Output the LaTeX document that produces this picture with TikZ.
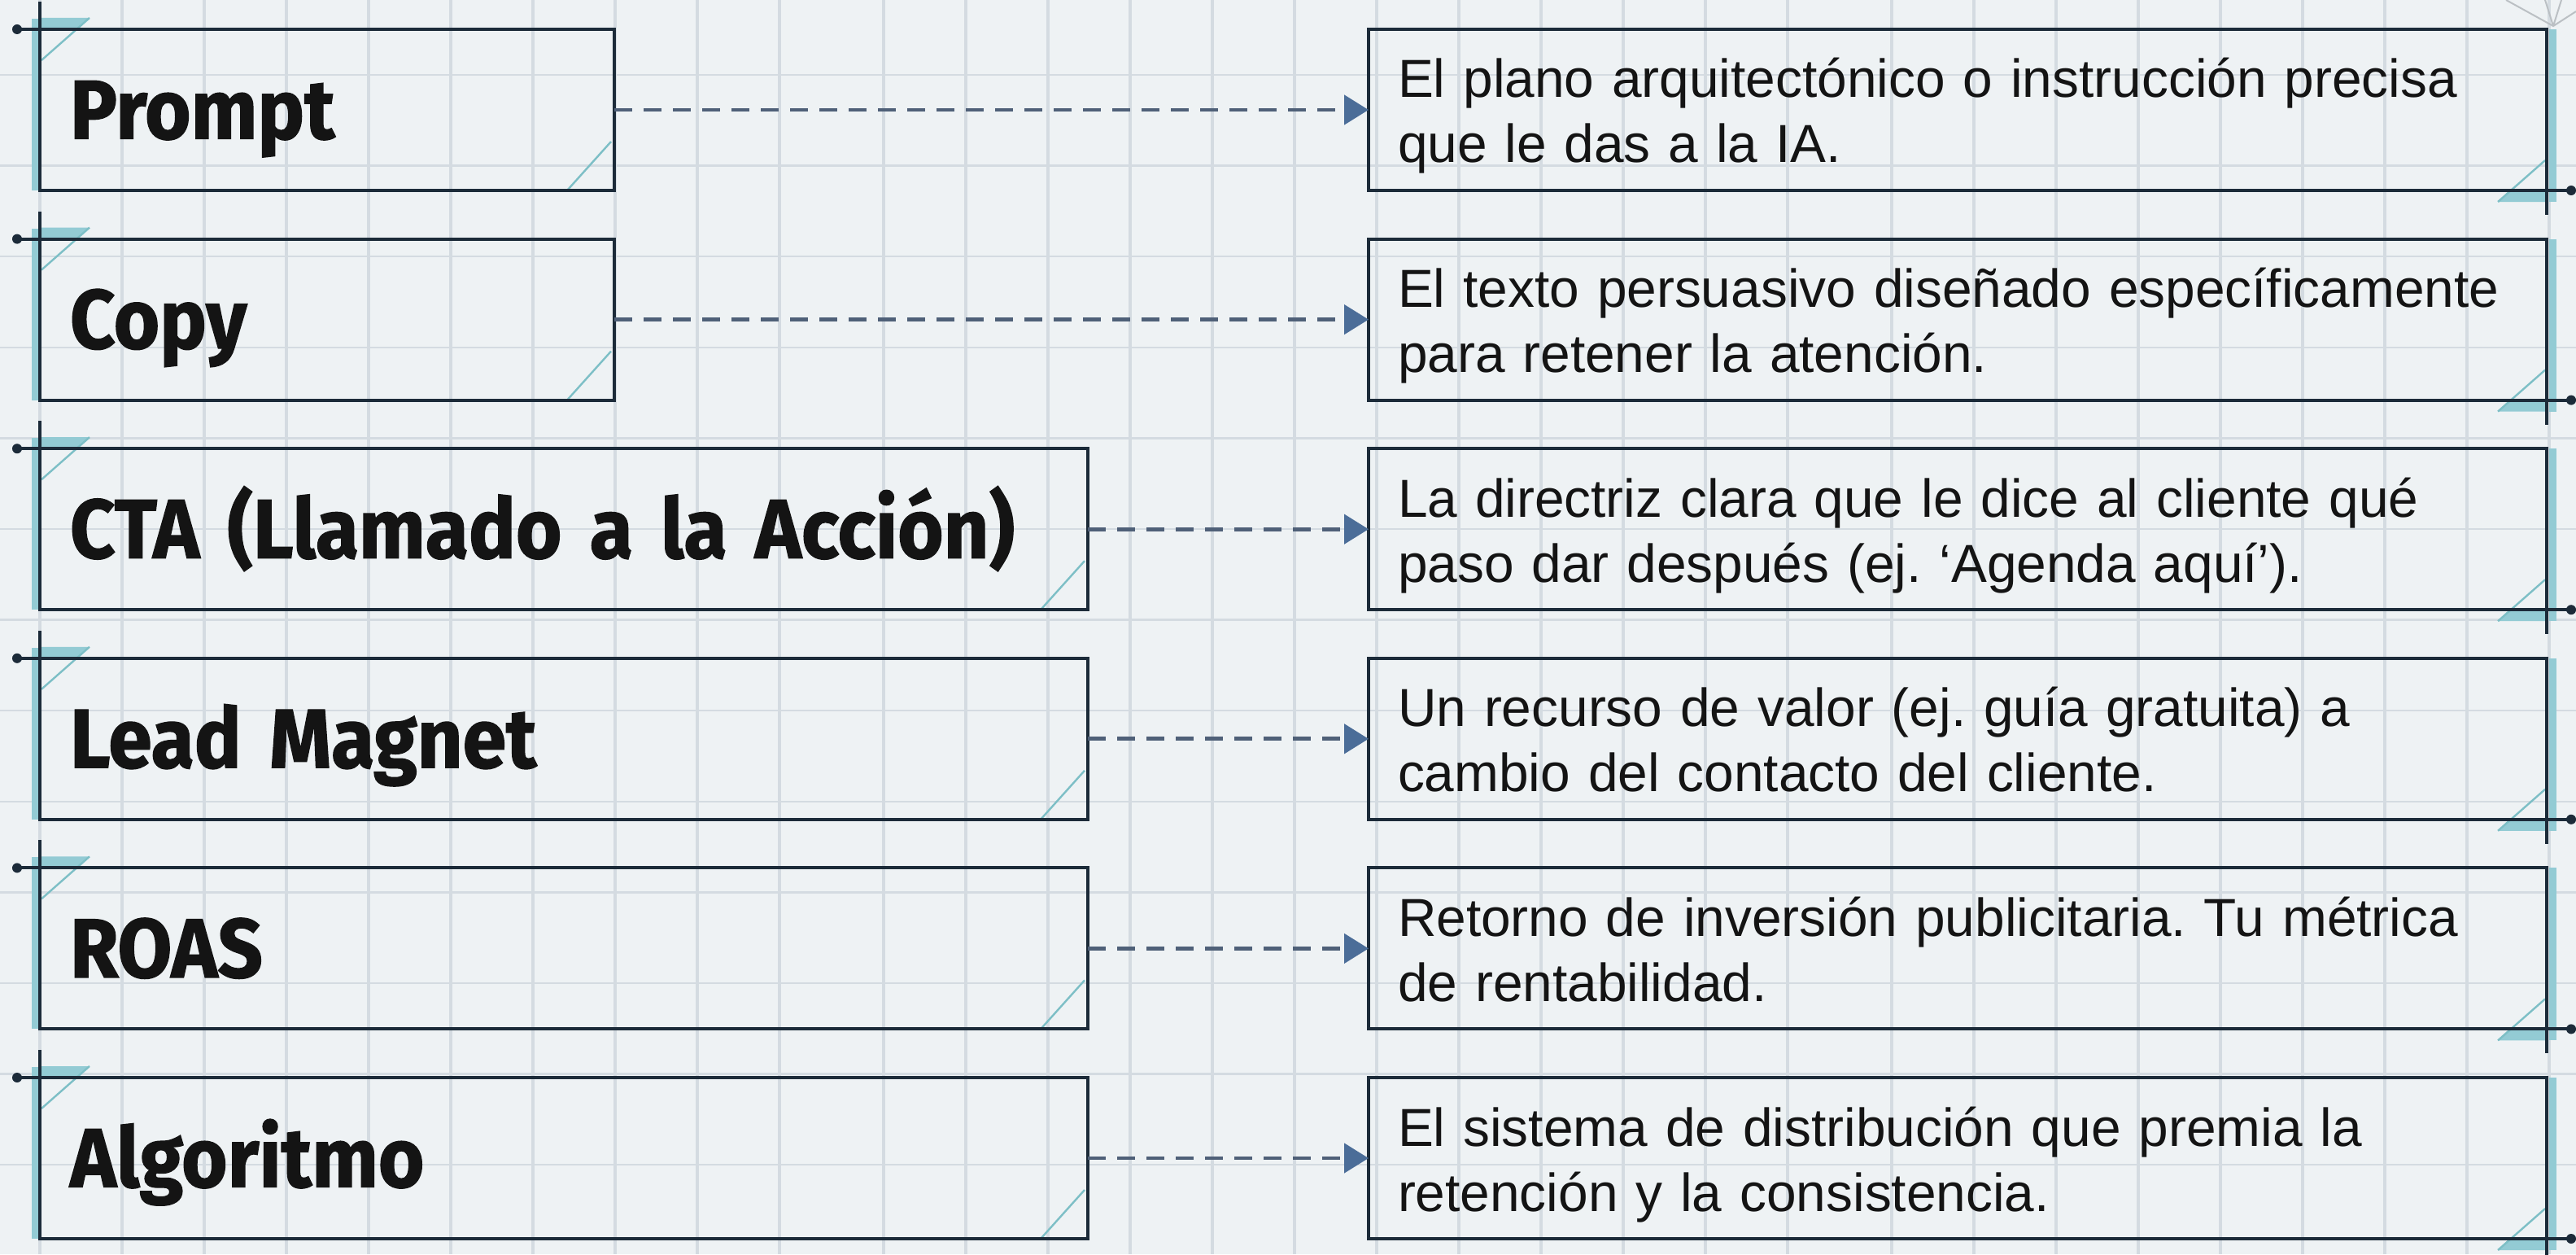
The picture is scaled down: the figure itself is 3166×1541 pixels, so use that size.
\documentclass[tikz,border=0pt]{standalone}
\usepackage{fontspec}
\setmainfont{Liberation Sans}
\newfontfamily\termfamily{Fira Sans}[FakeStretch=0.94, BoldFeatures={FakeBold=1.2}]
\usetikzlibrary{arrows.meta, positioning, backgrounds}
\frenchspacing
\hyphenpenalty=10000

\definecolor{paper}{HTML}{EEF2F4}
\definecolor{gridc}{HTML}{D4DBE1}
\definecolor{boxline}{HTML}{1C2B39}
\definecolor{teal}{HTML}{93CBD4}
\definecolor{tealline}{HTML}{7DBFC6}
\definecolor{linkc}{HTML}{4F6078}
\definecolor{tipc}{HTML}{4B6D98}
\definecolor{ink}{HTML}{141414}

\begin{document}
\begin{tikzpicture}[x=0.25pt, y=-0.25pt,
		termbox/.style={draw=boxline, line width=1pt, anchor=north west, minimum height=49.5pt,
			inner xsep=9.25pt, inner ysep=0pt, outer sep=0pt, text width=#1, align=left,
			text height=17.75pt, text depth=0pt, text=ink,
			font=\termfamily\bfseries\fontsize{25.75pt}{30pt}\selectfont},
		defbox/.style={draw=boxline, line width=1pt, minimum height=49.5pt,
			inner xsep=9pt, inner ysep=0pt, outer sep=0pt, text width=344pt, align=left,
			text height=12pt, text depth=19.5pt, text=ink,
			font=\fontsize{16.45pt}{20pt}\selectfont},
		link/.style={draw=linkc, line width=1.2pt, dash pattern=on 5.5pt off 3.5pt,
			-{Triangle[length=7.5pt, width=9pt, fill=tipc, color=tipc]}},
		gridline/.style={draw=gridc, line width=0.6pt}
		]
		\useasboundingbox (0,0) rectangle (3166,1541);
		% squared paper
		\begin{scope}[on background layer]
			\fill[paper] (0,0) rectangle (3166,1541);
			\foreach \x in {49,150,...,958} \draw[gridline, line width=0.8pt] (\x,0) -- (\x,1541);
			\foreach \x in {1086,1187,...,2197} \draw[gridline, line width=0.8pt] (\x,0) -- (\x,1541);
			\foreach \x in {2325,2426,...,3133} \draw[gridline, line width=0.8pt] (\x,0) -- (\x,1541);
			\foreach \k in {0,...,12} \draw[gridline] (0,92+111.6*\k) -- (3166,92+111.6*\k);
			\draw[gridc!70!gray, line width=0.5pt] (3080,0) -- (3138,32) -- (3166,14)
				(3128,0) -- (3138,32) (3148,0) -- (3138,32);
		\end{scope}

		% terms
		\node [termbox=158pt] (prompt) at (49,36) {Prompt};
		\node [termbox=158pt, below=14.9pt of prompt.south west, anchor=north west] (copy) {Copy};
		\node [termbox=303.5pt, below=14.9pt of copy.south west, anchor=north west] (cta) {CTA (Llamado a la Acción)};
		\node [termbox=303.5pt, below=14.9pt of cta.south west, anchor=north west] (lead) {Lead Magnet};
		\node [termbox=303.5pt, below=14.9pt of lead.south west, anchor=north west] (roas) {ROAS};
		\node [termbox=303.5pt, below=14.9pt of roas.south west, anchor=north west] (algo) {Algoritmo};

		% definitions
		\node [defbox, right=231.75pt of prompt.north east, anchor=north west] (prompt-def)
			{El plano arquitectónico o instrucción precisa\\que le das a la IA.};
		\node [defbox, right=231.75pt of copy.north east, anchor=north west] (copy-def)
			{El texto persuasivo diseñado específicamente\\para retener la atención.};
		\node [defbox, right=86.25pt of cta.north east, anchor=north west] (cta-def)
			{La directriz clara que le dice al cliente qué\\paso dar después (ej. ‘Agenda aquí’).};
		\node [defbox, right=86.25pt of lead.north east, anchor=north west] (lead-def)
			{Un recurso de valor (ej. guía gratuita) a\\cambio del contacto del cliente.};
		\node [defbox, right=86.25pt of roas.north east, anchor=north west] (roas-def)
			{Retorno de inversión publicitaria. Tu métrica\\de rentabilidad.};
		\node [defbox, right=86.25pt of algo.north east, anchor=north west] (algo-def)
			{El sistema de distribución que premia la\\retención y la consistencia.};

		\draw [link] (prompt) -- (prompt-def);
		\draw [link] (copy) -- (copy-def);
		\draw [link] (cta) -- (cta-def);
		\draw [link] (lead) -- (lead-def);
		\draw [link] (roas) -- (roas-def);
		\draw [link] (algo) -- (algo-def);

		% corner marks
		\begin{scope}[on background layer]
			\foreach \n in {prompt,copy,cta,lead,roas,algo} {
				\fill[teal] ([shift={(0,-14)}]\n.north west) -- ([shift={(61,-14)}]\n.north west)
					-- ([shift={(45,0)}]\n.north west) -- (\n.north west) -- cycle;
				\draw[tealline, line width=0.6pt] ([shift={(61,-14)}]\n.north west) -- ([shift={(2,38)}]\n.north west);
				\draw[teal, line width=2.25pt] ([shift={(-6,-13)}]\n.north west) -- ([shift={(-6,0)}]\n.south west);
				\draw[tealline, line width=0.6pt] ([shift={(-58,0)}]\n.south east) -- ([shift={(-4,-60)}]\n.south east);
				\draw[boxline, line width=1pt] (\n.north west) -- ([shift={(0,-34)}]\n.north west);
				\draw[boxline, line width=1pt] (\n.north west) -- ([shift={(-28,0)}]\n.north west);
				\fill[boxline] ([shift={(-28,0)}]\n.north west) circle[radius=1.5pt];
				\draw[teal, line width=2.25pt] ([shift={(7,0)}]\n-def.north east) -- ([shift={(7,14)}]\n-def.south east);
				\fill[teal] (\n-def.south east) -- ([shift={(0,14)}]\n-def.south east)
					-- ([shift={(-60,14)}]\n-def.south east) -- ([shift={(-46,0)}]\n-def.south east) -- cycle;
				\draw[tealline, line width=0.6pt] ([shift={(-60,14)}]\n-def.south east) -- ([shift={(-2,-37)}]\n-def.south east);
				\draw[boxline, line width=1pt] (\n-def.south east) -- ([shift={(0,30)}]\n-def.south east);
				\draw[boxline, line width=1pt] (\n-def.south east) -- ([shift={(30,0)}]\n-def.south east);
				\fill[boxline] ([shift={(30,0)}]\n-def.south east) circle[radius=1.5pt];
			}
		\end{scope}
	\end{tikzpicture}
\end{document}
